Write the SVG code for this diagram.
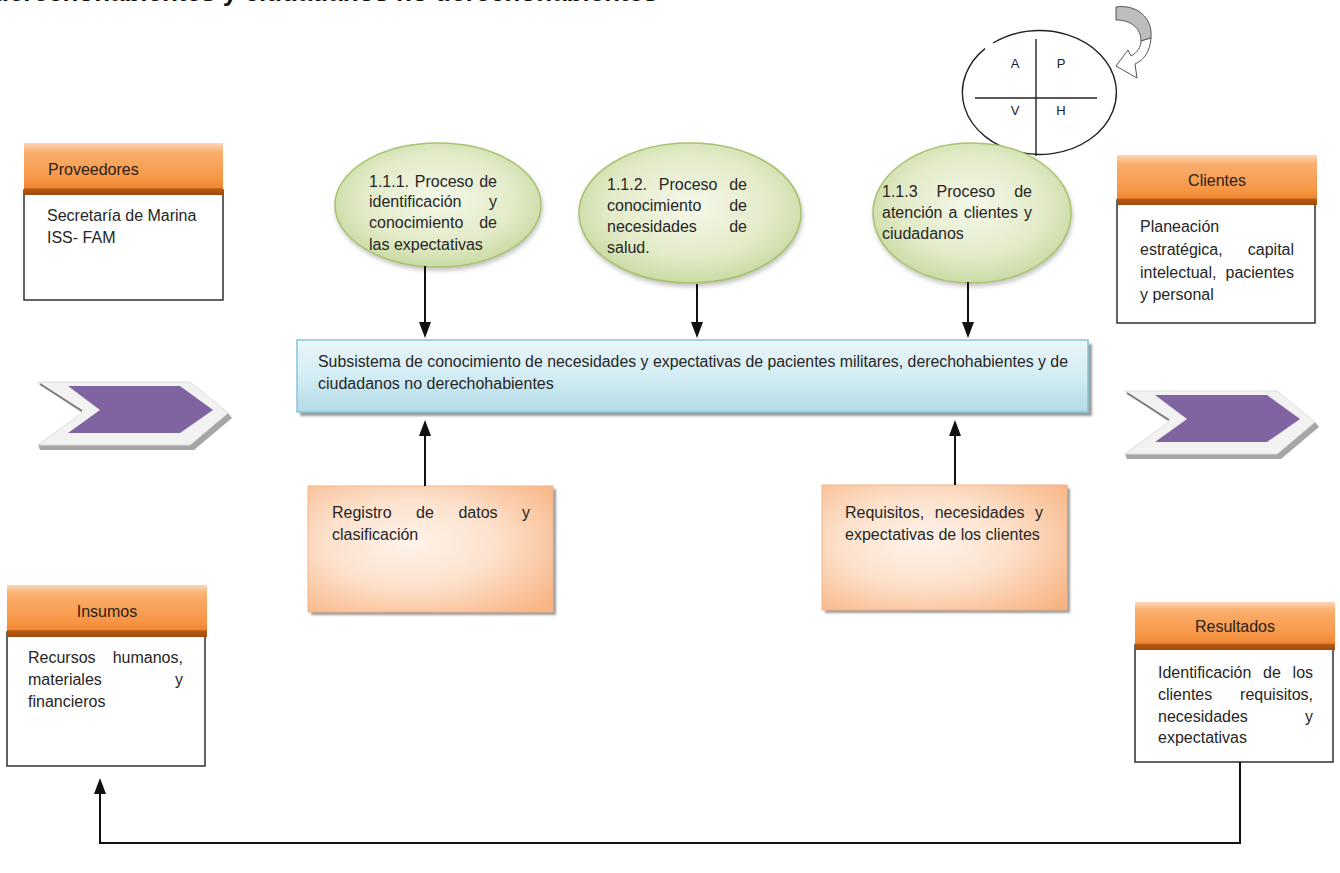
<svg xmlns="http://www.w3.org/2000/svg" width="1340" height="873" viewBox="0 0 1340 873">
  <defs>
    <linearGradient id="gOrange" x1="0" y1="0" x2="0" y2="1">
      <stop offset="0" stop-color="#fcd6b6"/>
      <stop offset="0.18" stop-color="#f9ae6c"/>
      <stop offset="0.7" stop-color="#f79646"/>
      <stop offset="0.86" stop-color="#ef8633"/>
      <stop offset="0.88" stop-color="#b85a12"/>
      <stop offset="1" stop-color="#9e4c0e"/>
    </linearGradient>
    <linearGradient id="gBlue" x1="0" y1="0" x2="0" y2="1">
      <stop offset="0" stop-color="#eaf6fa"/>
      <stop offset="0.5" stop-color="#d3edf4"/>
      <stop offset="1" stop-color="#b2dbe7"/>
    </linearGradient>
    <radialGradient id="gPeach" cx="0.42" cy="0.45" r="0.75">
      <stop offset="0" stop-color="#fef3ea"/>
      <stop offset="0.45" stop-color="#fde2cd"/>
      <stop offset="1" stop-color="#f8b382"/>
    </radialGradient>
    <radialGradient id="gGreen" cx="0.5" cy="0.45" r="0.6">
      <stop offset="0" stop-color="#f5f8ea"/>
      <stop offset="0.6" stop-color="#e3ebc8"/>
      <stop offset="1" stop-color="#c4d79c"/>
    </radialGradient>
    <filter id="soft" x="-10%" y="-10%" width="130%" height="140%">
      <feDropShadow dx="1" dy="3" stdDeviation="2" flood-color="#7f7f7f" flood-opacity="0.45"/>
    </filter>
    <filter id="blur1">
      <feGaussianBlur stdDeviation="1.2"/>
    </filter>
  </defs>
  <style>
    .t { font-family: "Liberation Sans", Arial, sans-serif; font-size: 16px; fill: #262626; }
    .h { font-family: "Liberation Sans", Arial, sans-serif; font-size: 16px; fill: #2a2118; }
    .mid { text-anchor: middle; }
    .pd { font-family: "Liberation Sans", Arial, sans-serif; font-size: 13px; fill: #222; text-anchor: middle; }
    .hdr { fill: url(#gOrange); }
    .body { fill: #ffffff; stroke: #222; stroke-width: 1.4; }
    .bub { fill: url(#gGreen); stroke: #a8c36c; stroke-width: 1.5; filter: url(#soft); }
    .peach { fill: url(#gPeach); stroke: #f3b486; stroke-width: 1; }
    .shade { fill: #9c9c9c; filter: url(#blur1); }
    .wire { fill: none; stroke: #111; stroke-width: 2; }
    .head { fill: #111; }
    .chev-shadow { fill: #a6a6a6; }
    .chev-out { fill: #f2f2f2; stroke: #dcdcdc; stroke-width: 1; }
    .chev-in { fill: #8064a2; }
    .chev-edge { fill: none; stroke: #7a7a7a; stroke-width: 2; }
  </style>

  <rect width="1340" height="873" fill="#ffffff"/>

  <!-- heading line running off the top edge -->
  <text x="-7" y="1" font-family="'Liberation Sans', Arial, sans-serif" font-size="26" font-weight="bold" fill="#111">derechohabientes y ciudadanos no derechohabientes</text>

  <!-- PDCA cycle -->
  <g id="pdca">
    <path d="M993,43 A77,62 0 1 1 985,48.6" fill="#fff" stroke="#222" stroke-width="1.4"/>
    <line x1="1036" y1="39" x2="1036" y2="156" stroke="#222" stroke-width="1.4"/>
    <line x1="975" y1="98" x2="1097" y2="98" stroke="#222" stroke-width="1.4"/>
    <text class="pd" x="1015" y="68">A</text>
    <text class="pd" x="1061" y="68">P</text>
    <text class="pd" x="1015" y="115">V</text>
    <text class="pd" x="1061" y="115">H</text>
    <path d="M1116,7 C1137,4 1153,18 1151,38 L1141,41 C1141,28 1131,20 1116,20 Z" fill="#bdbdbd" stroke="#555" stroke-width="1"/>
    <path d="M1151,38 C1150,52 1144,60 1135,64 L1137,78 L1116,66 L1128,50 L1131,56 C1137,53 1141,47 1141,41 Z" fill="#fff" stroke="#555" stroke-width="1"/>
  </g>

  <!-- Proveedores -->
  <g id="proveedores">
    <rect class="body" x="24" y="190" width="199" height="110"/>
    <rect class="hdr" x="24" y="143" width="199" height="52"/>
    <text class="h" x="48" y="175">Proveedores</text>
    <text class="t" x="47" y="221">Secretaría de Marina</text>
    <text class="t" x="47" y="243">ISS- FAM</text>
  </g>

  <!-- Clientes -->
  <g id="clientes">
    <rect class="body" x="1117" y="200" width="198" height="123"/>
    <rect class="hdr" x="1117" y="155" width="200" height="50"/>
    <text class="h mid" x="1217" y="186">Clientes</text>
    <text class="t" x="1140" y="232">Planeación</text>
    <text class="t" y="255"><tspan x="1140">estratégica,</tspan><tspan x="1247.8">capital</tspan></text>
    <text class="t" y="278"><tspan x="1140">intelectual,</tspan><tspan x="1225.5">pacientes</tspan></text>
    <text class="t" x="1140" y="300">y personal</text>
  </g>

  <!-- Insumos -->
  <g id="insumos">
    <rect class="body" x="7" y="632" width="198" height="134"/>
    <rect class="hdr" x="7" y="585" width="200" height="52"/>
    <text class="h mid" x="107" y="617">Insumos</text>
    <text class="t" y="663"><tspan x="28">Recursos</tspan><tspan x="112.7">humanos,</tspan></text>
    <text class="t" y="685"><tspan x="28">materiales</tspan><tspan x="175">y</tspan></text>
    <text class="t" x="28" y="707">financieros</text>
  </g>

  <!-- Resultados -->
  <g id="resultados">
    <rect class="body" x="1135" y="645" width="198" height="117"/>
    <rect class="hdr" x="1135" y="602" width="200" height="48"/>
    <text class="h mid" x="1235" y="632">Resultados</text>
    <text class="t" y="678"><tspan x="1158">Identificación</tspan><tspan x="1263.1">de</tspan><tspan x="1292.6">los</tspan></text>
    <text class="t" y="700"><tspan x="1158">clientes</tspan><tspan x="1240.1">requisitos,</tspan></text>
    <text class="t" y="722"><tspan x="1158">necesidades</tspan><tspan x="1305">y</tspan></text>
    <text class="t" x="1158" y="743">expectativas</text>
  </g>

  <!-- process bubbles -->
  <g id="proc-111">
    <ellipse class="bub" cx="438" cy="205" rx="103" ry="62"/>
    <text class="t" y="187"><tspan x="369">1.1.1.</tspan><tspan x="414.8">Proceso</tspan><tspan x="479.2">de</tspan></text>
    <text class="t" y="207"><tspan x="369">identificación</tspan><tspan x="489">y</tspan></text>
    <text class="t" y="228"><tspan x="369">conocimiento</tspan><tspan x="479.2">de</tspan></text>
    <text class="t" x="369" y="250">las expectativas</text>
  </g>
  <g id="proc-112">
    <ellipse class="bub" cx="690" cy="213" rx="111" ry="70"/>
    <text class="t" y="190"><tspan x="607">1.1.2.</tspan><tspan x="658.8">Proceso</tspan><tspan x="729.2">de</tspan></text>
    <text class="t" y="211"><tspan x="607">conocimiento</tspan><tspan x="729.2">de</tspan></text>
    <text class="t" y="232"><tspan x="607">necesidades</tspan><tspan x="729.2">de</tspan></text>
    <text class="t" x="607" y="253">salud.</text>
  </g>
  <g id="proc-113">
    <ellipse class="bub" cx="972" cy="213" rx="99" ry="70"/>
    <text class="t" y="197"><tspan x="882">1.1.3</tspan><tspan x="936.5">Proceso</tspan><tspan x="1014.2">de</tspan></text>
    <text class="t" y="218"><tspan x="882">atención</tspan><tspan x="948.6">a</tspan><tspan x="963.7">clientes</tspan><tspan x="1024">y</tspan></text>
    <text class="t" x="882" y="239">ciudadanos</text>
  </g>

  <!-- central subsystem -->
  <g id="subsistema">
    <rect class="shade" x="300" y="344" width="792" height="72"/>
    <rect x="297" y="340" width="791" height="72" fill="url(#gBlue)" stroke="#86c5d8" stroke-width="1.5"/>
    <text class="t" x="318" y="367" font-size="15" textLength="750" lengthAdjust="spacingAndGlyphs">Subsistema de conocimiento de necesidades y expectativas de pacientes militares,  derechohabientes y de</text>
    <text class="t" x="318" y="389" font-size="15">ciudadanos no derechohabientes</text>
  </g>

  <!-- input / output chevrons -->
  <g id="chevron-in">
    <polygon class="chev-shadow" points="38,445 190,445 228,413 232,418 194,450 40,450"/>
    <polygon class="chev-out" points="38,382 190,382 228,413 190,445 38,445 82,413"/>
    <polyline class="chev-edge" points="40,384 82,411"/>
    <polygon class="chev-in" points="68,386 180,386 213,410 180,433 68,433 100,410"/>
  </g>
  <g id="chevron-out">
    <polygon class="chev-shadow" points="1125,454 1277,454 1315,422 1319,427 1281,459 1127,459"/>
    <polygon class="chev-out" points="1125,391 1277,391 1315,422 1277,454 1125,454 1169,422"/>
    <polyline class="chev-edge" points="1127,393 1169,420"/>
    <polygon class="chev-in" points="1155,395 1267,395 1300,419 1267,442 1155,442 1187,419"/>
  </g>

  <!-- supporting inputs -->
  <g id="registro">
    <rect class="shade" x="311" y="489" width="245" height="126"/>
    <rect class="peach" x="308" y="486" width="245" height="126"/>
    <text class="t" y="518"><tspan x="332">Registro</tspan><tspan x="416.1">de</tspan><tspan x="458.4">datos</tspan><tspan x="522">y</tspan></text>
    <text class="t" x="332" y="540">clasificación</text>
  </g>
  <g id="requisitos">
    <rect class="shade" x="825" y="488" width="245" height="125"/>
    <rect class="peach" x="822" y="485" width="245" height="125"/>
    <text class="t" y="518"><tspan x="845">Requisitos,</tspan><tspan x="934.7">necesidades</tspan><tspan x="1035">y</tspan></text>
    <text class="t" x="845" y="540">expectativas de los clientes</text>
  </g>

  <!-- connectors -->
  <g id="connectors">
    <line class="wire" x1="425" y1="266" x2="425" y2="324"/>
    <polygon class="head" points="419,322 431,322 425,338"/>
    <line class="wire" x1="697" y1="284" x2="697" y2="324"/>
    <polygon class="head" points="691,322 703,322 697,338"/>
    <line class="wire" x1="968" y1="282" x2="968" y2="324"/>
    <polygon class="head" points="962,322 974,322 968,338"/>
    <line class="wire" x1="425" y1="486" x2="425" y2="434"/>
    <polygon class="head" points="419,436 431,436 425,420"/>
    <line class="wire" x1="955" y1="485" x2="955" y2="434"/>
    <polygon class="head" points="949,436 961,436 955,420"/>
    <path class="wire" d="M1240,762 V843 H100 V792"/>
    <polygon class="head" points="94,794 106,794 100,778"/>
  </g>
</svg>
